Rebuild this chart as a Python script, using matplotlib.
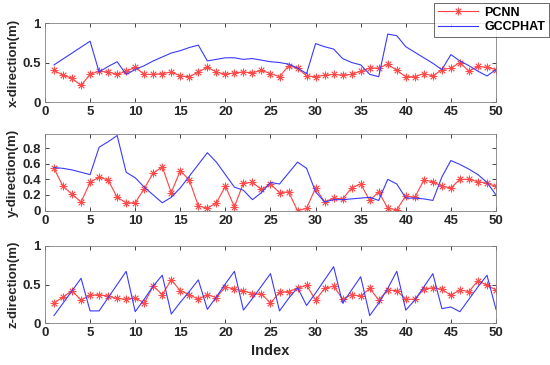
import numpy as np
import matplotlib
matplotlib.use('Agg')
import matplotlib.pyplot as plt

plt.rcParams['font.family'] = ['Liberation Sans', 'DejaVu Sans']
plt.rcParams['font.weight'] = 'bold'

idx = np.arange(1, 51)

# x-direction
pcnn_x = [0.40, 0.34, 0.30, 0.21, 0.35, 0.39, 0.38, 0.35, 0.39, 0.44,
          0.35, 0.35, 0.36, 0.38, 0.33, 0.32, 0.38, 0.44, 0.38, 0.35,
          0.37, 0.38, 0.37, 0.40, 0.36, 0.32, 0.46, 0.43, 0.33, 0.32,
          0.34, 0.35, 0.34, 0.35, 0.39, 0.43, 0.43, 0.48, 0.40, 0.32,
          0.32, 0.36, 0.33, 0.41, 0.43, 0.50, 0.39, 0.45, 0.44, 0.41]
gcc_x = [0.47, 0.545, 0.62, 0.695, 0.77, 0.38, 0.45, 0.51, 0.35, 0.41,
         0.46, 0.52, 0.57, 0.62, 0.65, 0.69, 0.72, 0.52, 0.54, 0.56,
         0.56, 0.54, 0.55, 0.53, 0.51, 0.50, 0.48, 0.43, 0.36, 0.74,
         0.70, 0.67, 0.55, 0.50, 0.47, 0.35, 0.32, 0.86, 0.84, 0.70,
         0.63, 0.56, 0.49, 0.41, 0.60, 0.52, 0.46, 0.39, 0.33, 0.41]

# y-direction
pcnn_y = [0.54, 0.31, 0.21, 0.11, 0.36, 0.43, 0.39, 0.17, 0.10, 0.10,
          0.28, 0.48, 0.56, 0.23, 0.51, 0.39, 0.06, 0.03, 0.10, 0.31,
          0.05, 0.35, 0.36, 0.27, 0.34, 0.23, 0.24, 0.00, 0.03, 0.29,
          0.11, 0.16, 0.15, 0.29, 0.34, 0.13, 0.24, 0.03, 0.01, 0.19,
          0.17, 0.39, 0.37, 0.31, 0.29, 0.40, 0.40, 0.37, 0.35, 0.31]
gcc_y = [0.55, 0.54, 0.52, 0.49, 0.46, 0.81, 0.88, 0.96, 0.49, 0.42,
         0.30, 0.20, 0.10, 0.17, 0.29, 0.44, 0.59, 0.74, 0.62, 0.46,
         0.30, 0.26, 0.14, 0.23, 0.36, 0.34, 0.48, 0.62, 0.54, 0.24,
         0.11, 0.14, 0.14, 0.15, 0.16, 0.17, 0.13, 0.40, 0.34, 0.16,
         0.16, 0.15, 0.13, 0.43, 0.64, 0.59, 0.53, 0.46, 0.36, 0.20]

# z-direction
pcnn_z = [0.26, 0.34, 0.42, 0.30, 0.36, 0.37, 0.35, 0.32, 0.31, 0.33,
          0.26, 0.48, 0.37, 0.56, 0.42, 0.37, 0.31, 0.37, 0.33, 0.47,
          0.44, 0.42, 0.38, 0.38, 0.26, 0.40, 0.41, 0.45, 0.49, 0.30,
          0.45, 0.48, 0.31, 0.37, 0.35, 0.45, 0.30, 0.43, 0.42, 0.31,
          0.31, 0.44, 0.46, 0.44, 0.36, 0.43, 0.41, 0.55, 0.49, 0.43]
gcc_z = [0.10, 0.26, 0.42, 0.58, 0.16, 0.16, 0.33, 0.50, 0.67, 0.15,
         0.31, 0.48, 0.62, 0.12, 0.27, 0.41, 0.56, 0.18, 0.34, 0.51,
         0.67, 0.17, 0.32, 0.48, 0.64, 0.16, 0.32, 0.46, 0.23, 0.39,
         0.56, 0.73, 0.26, 0.43, 0.60, 0.10, 0.26, 0.45, 0.67, 0.17,
         0.30, 0.47, 0.64, 0.19, 0.21, 0.15, 0.31, 0.47, 0.62, 0.18]

panels = [
    (pcnn_x, gcc_x, 'x-direction(m)', (0, 1), [0, 0.5, 1], ['0', '0.5', '1']),
    (pcnn_y, gcc_y, 'y-direction(m)', (-0.005, 0.975), [0, 0.2, 0.4, 0.6, 0.8],
     ['0', '0.2', '0.4', '0.6', '0.8']),
    (pcnn_z, gcc_z, 'z-direction(m)', (0, 1), [0, 0.5, 1], ['0', '0.5', '1']),
]
# [left, bottom, width, height] in figure fractions
boxes = [[0.0818, 0.7205, 0.82, 0.2164],
         [0.0818, 0.4219, 0.82, 0.2101],
         [0.0818, 0.1142, 0.82, 0.2126]]

fig = plt.figure(figsize=(5.5, 3.65), dpi=100)
axcol = '#262626'
star = (8, 2, 0)  # asterisk like matlab '*'
for (p, g, lab, ylim, yt, ytl), box in zip(panels, boxes):
    ax = fig.add_axes(box)
    l1, = ax.plot(idx, p, color='#ff4040', lw=0.8, marker=star, ms=5.5,
                  mec='#ff4a4a', mew=0.6, label='PCNN')
    l2, = ax.plot(idx, g, color='#3a3aff', lw=0.8, label='GCCPHAT')
    ax.set_xlim(0, 50)
    ax.set_ylim(*ylim)
    ax.set_xticks(range(0, 51, 5))
    ax.set_yticks(yt)
    ax.set_yticklabels(ytl)
    ax.tick_params(direction='in', top=True, right=True, length=3, width=0.6,
                   labelsize=9.5, colors=axcol, pad=3)
    for s in ax.spines.values():
        s.set_color('#808080')
        s.set_linewidth(0.6)
    ax.set_ylabel(lab, fontsize=9.5, fontweight='bold', color=axcol, labelpad=2)
    for t in ax.get_xticklabels() + ax.get_yticklabels():
        t.set_fontweight('bold')
    if lab.startswith('z'):
        ax.set_xlabel('Index', fontsize=10.5, fontweight='bold', color=axcol, labelpad=3)

leg = fig.legend([l1, l2], ['PCNN', 'GCCPHAT'], loc='upper right',
                 bbox_to_anchor=(1.0, 0.995), fontsize=9, frameon=True,
                 fancybox=False, borderpad=0.3, handlelength=3.2,
                 labelspacing=0.2, handletextpad=0.5, borderaxespad=0.1)
leg.get_frame().set_edgecolor('#262626')
leg.get_frame().set_linewidth(0.6)
for t in leg.get_texts():
    t.set_fontweight('bold')

fig.savefig('out.png', dpi=100)
